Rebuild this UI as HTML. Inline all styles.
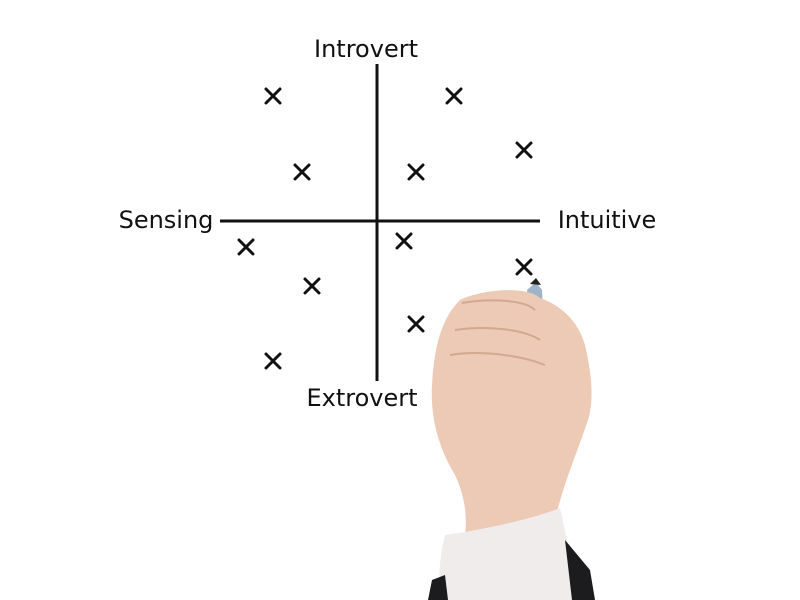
<!DOCTYPE html>
<html><head><meta charset="utf-8"><style>
html,body{margin:0;padding:0;background:#fff;width:800px;height:600px;overflow:hidden}
text{font-family:"DejaVu Sans","Liberation Sans",sans-serif;fill:#111}
</style></head><body>
<svg width="800" height="600" viewBox="0 0 800 600" xmlns="http://www.w3.org/2000/svg">
<rect width="800" height="600" fill="#fff"/>
<line x1="377" y1="64" x2="377" y2="381" stroke="#111" stroke-width="3"/>
<line x1="220" y1="221" x2="540" y2="221" stroke="#111" stroke-width="3"/>
<text x="366" y="57" font-size="24" text-anchor="middle">Introvert</text>
<text x="362" y="406" font-size="24" text-anchor="middle">Extrovert</text>
<text x="166" y="228" font-size="24" text-anchor="middle">Sensing</text>
<text x="607" y="228" font-size="24" text-anchor="middle">Intuitive</text>
<g stroke="#111" stroke-width="3" stroke-linecap="round">
<path d="M266 89l14 14M280 89l-14 14"/>
<path d="M447 89l14 14M461 89l-14 14"/>
<path d="M517 143l14 14M531 143l-14 14"/>
<path d="M295 165l14 14M309 165l-14 14"/>
<path d="M409 165l14 14M423 165l-14 14"/>
<path d="M239 240l14 14M253 240l-14 14"/>
<path d="M397 234l14 14M411 234l-14 14"/>
<path d="M517 260l14 14M531 260l-14 14"/>
<path d="M305 279l14 14M319 279l-14 14"/>
<path d="M409 317l14 14M423 317l-14 14"/>
<path d="M266 354l14 14M280 354l-14 14"/>
</g>
<path d="M527 290 L536 282 L542 290 L546 370 L535 372 Z" fill="#9fb4c8"/>
<path d="M530 284 L536 278 L541 285 Z" fill="#222"/>
<path d="M460 300 C480 290 525 285 540 298 C560 305 578 320 585 345 C592 375 594 400 588 420 C578 450 565 480 557 512 L465 535 C468 510 462 490 455 475 C440 450 430 420 432 385 C434 350 440 320 460 300 Z" fill="#eccab6"/>
<path d="M462 303 C490 298 525 300 535 310 M455 330 C490 325 525 330 540 340 M450 355 C480 350 520 355 545 365" stroke="#d3a891" stroke-width="2" fill="none"/>
<path d="M445 535 C480 530 530 520 560 508 L580 600 L440 600 C438 575 440 555 445 535 Z" fill="#f1ecec"/>
<path d="M565 540 L590 570 L595 600 L572 600 Z" fill="#1c1c1e"/>
<path d="M432 580 L445 575 L448 600 L428 600 Z" fill="#1c1c1e"/>
</svg>
</body></html>
